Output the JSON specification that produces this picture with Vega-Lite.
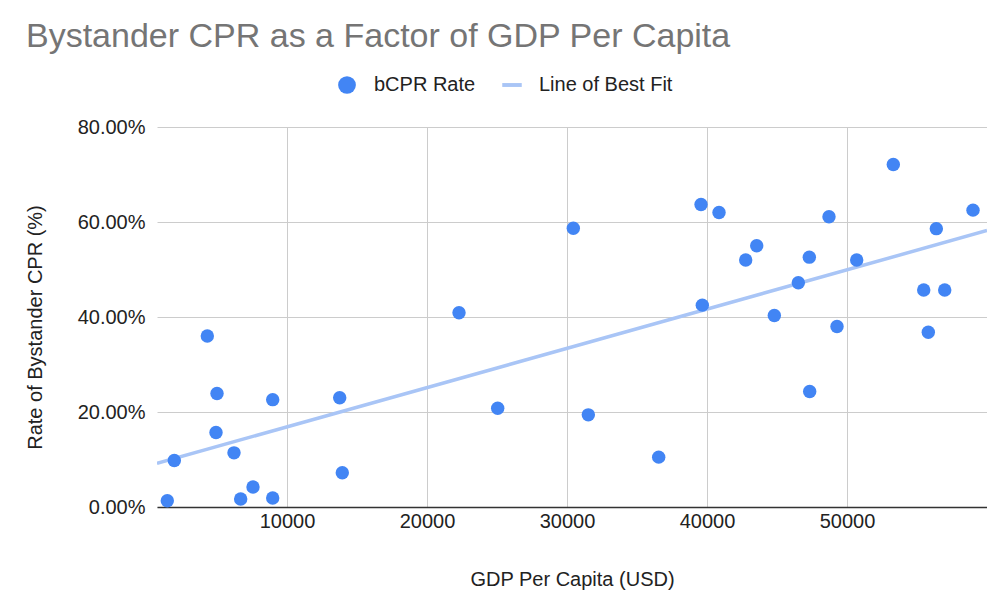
{
  "$schema": "https://vega.github.io/schema/vega-lite/v6.json",
  "width": 830,
  "height": 380,
  "autosize": {"type": "none"},
  "padding": {"left": 157, "top": 127, "right": 0, "bottom": 88},
  "background": "white",
  "config": {
    "font": "Liberation Sans",
    "view": {"stroke": null},
    "axis": {"labelFont": "Liberation Sans", "titleFont": "Liberation Sans", "labelColor": "#222222", "titleColor": "#222222", "titleFontWeight": "normal"}
  },
  "title": {
    "text": "Bystander CPR as a Factor of GDP Per Capita",
    "anchor": "start",
    "frame": "group",
    "font": "Liberation Sans",
    "fontSize": 34,
    "fontWeight": "normal",
    "color": "#757575",
    "dx": -131,
    "dy": 6,
    "baseline": "alphabetic",
    "offset": 0
  },
  "datasets": {
    "points": [
      {"gdp": 1450, "rate": 0.013, "series": "bCPR Rate"},
      {"gdp": 1950, "rate": 0.098, "series": "bCPR Rate"},
      {"gdp": 4307, "rate": 0.360, "series": "bCPR Rate"},
      {"gdp": 5000, "rate": 0.239, "series": "bCPR Rate"},
      {"gdp": 4928, "rate": 0.157, "series": "bCPR Rate"},
      {"gdp": 6214, "rate": 0.114, "series": "bCPR Rate"},
      {"gdp": 6690, "rate": 0.017, "series": "bCPR Rate"},
      {"gdp": 7571, "rate": 0.042, "series": "bCPR Rate"},
      {"gdp": 8978, "rate": 0.226, "series": "bCPR Rate"},
      {"gdp": 8978, "rate": 0.019, "series": "bCPR Rate"},
      {"gdp": 13764, "rate": 0.230, "series": "bCPR Rate"},
      {"gdp": 13950, "rate": 0.072, "series": "bCPR Rate"},
      {"gdp": 22286, "rate": 0.409, "series": "bCPR Rate"},
      {"gdp": 25050, "rate": 0.208, "series": "bCPR Rate"},
      {"gdp": 30451, "rate": 0.587, "series": "bCPR Rate"},
      {"gdp": 31523, "rate": 0.194, "series": "bCPR Rate"},
      {"gdp": 36550, "rate": 0.105, "series": "bCPR Rate"},
      {"gdp": 39573, "rate": 0.637, "series": "bCPR Rate"},
      {"gdp": 40858, "rate": 0.620, "series": "bCPR Rate"},
      {"gdp": 39666, "rate": 0.425, "series": "bCPR Rate"},
      {"gdp": 42764, "rate": 0.520, "series": "bCPR Rate"},
      {"gdp": 43550, "rate": 0.550, "series": "bCPR Rate"},
      {"gdp": 44809, "rate": 0.403, "series": "bCPR Rate"},
      {"gdp": 46523, "rate": 0.472, "series": "bCPR Rate"},
      {"gdp": 47309, "rate": 0.526, "series": "bCPR Rate"},
      {"gdp": 47335, "rate": 0.243, "series": "bCPR Rate"},
      {"gdp": 48714, "rate": 0.611, "series": "bCPR Rate"},
      {"gdp": 49286, "rate": 0.380, "series": "bCPR Rate"},
      {"gdp": 50693, "rate": 0.520, "series": "bCPR Rate"},
      {"gdp": 53308, "rate": 0.721, "series": "bCPR Rate"},
      {"gdp": 55480, "rate": 0.457, "series": "bCPR Rate"},
      {"gdp": 55807, "rate": 0.368, "series": "bCPR Rate"},
      {"gdp": 56380, "rate": 0.586, "series": "bCPR Rate"},
      {"gdp": 56980, "rate": 0.457, "series": "bCPR Rate"},
      {"gdp": 59000, "rate": 0.625, "series": "bCPR Rate"}
    ],
    "fit": [
      {"gdp": 714, "rate": 0.092, "series": "Line of Best Fit"},
      {"gdp": 60000, "rate": 0.582, "series": "Line of Best Fit"}
    ]
  },
  "encoding": {
    "x": {
      "field": "gdp",
      "type": "quantitative",
      "scale": {"domain": [714, 60000], "nice": false, "zero": false},
      "axis": {
        "title": "GDP Per Capita (USD)",
        "values": [10000, 20000, 30000, 40000, 50000],
        "format": "d",
        "labelFontSize": 20,
        "titleFontSize": 20,
        "ticks": false,
        "tickSize": 0,
        "labelPadding": 4,
        "domain": true,
        "domainColor": "#333333",
        "domainWidth": 1.5,
        "grid": true,
        "gridColor": "#cccccc",
        "gridWidth": 1,
        "titleBaseline": "alphabetic",
        "titleY": 78,
        "titleX": 415
      }
    },
    "y": {
      "field": "rate",
      "type": "quantitative",
      "scale": {"domain": [0, 0.8], "nice": false},
      "axis": {
        "title": "Rate of Bystander CPR (%)",
        "values": [0, 0.2, 0.4, 0.6, 0.8],
        "format": ".2%",
        "labelFontSize": 20,
        "titleFontSize": 20,
        "ticks": false,
        "tickSize": 0,
        "labelPadding": 12,
        "domain": false,
        "grid": true,
        "gridColor": "#cccccc",
        "gridWidth": 1,
        "titleX": -122,
        "titleY": 200,
        "titleAngle": -90,
        "titleBaseline": "middle",
        "titleAlign": "center"
      }
    },
    "color": {
      "field": "series",
      "type": "nominal",
      "scale": {"domain": ["bCPR Rate", "Line of Best Fit"], "range": ["#4285F4", "#A9C5F6"]},
      "legend": {
        "title": null,
        "orient": "none",
        "direction": "horizontal",
        "legendX": 180,
        "legendY": -52,
        "labelFontSize": 20,
        "labelColor": "#222222",
        "labelFont": "Liberation Sans",
        "labelOffset": 17,
        "columnPadding": 26,
        "symbolSize": 314,
        "padding": 0,
        "encode": {
          "symbols": {
            "update": {
              "shape": {"signal": "datum.value === 'Line of Best Fit' ? 'M-1,-0.2H1V0.2H-1Z' : 'circle'"},
              "fill": {"signal": "datum.value === 'Line of Best Fit' ? '#A9C5F6' : '#4285F4'"},
              "stroke": {"value": "transparent"},
              "strokeWidth": {"value": 0},
              "opacity": {"value": 1},
              "fillOpacity": {"value": 1},
              "size": {"signal": "datum.value === 'Line of Best Fit' ? 380 : 314"}
            }
          }
        }
      }
    }
  },
  "layer": [
    {
      "data": {"name": "fit"},
      "mark": {"type": "line", "strokeWidth": 3.5, "clip": true},
      "encoding": {}
    },
    {
      "data": {"name": "points"},
      "mark": {"type": "point", "filled": true, "opacity": 1, "size": 180, "clip": false},
      "encoding": {}
    }
  ]
}
